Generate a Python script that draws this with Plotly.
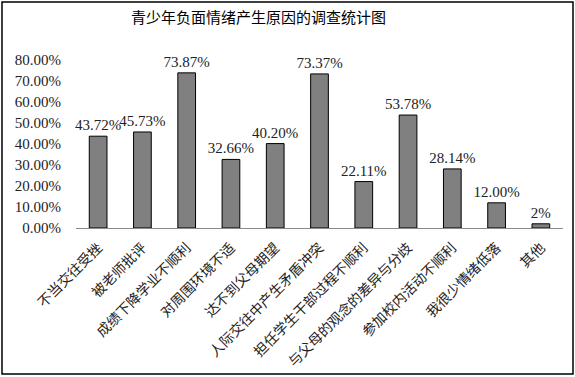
import plotly.graph_objects as go

categories = ["不当交往受挫", "被老师批评", "成绩下降学业不顺利", "对周围环境不适", "达不到父母期望",
              "人际交往中产生矛盾冲突", "担任学生干部过程不顺利", "与父母的观念的差异与分歧",
              "参加校内活动不顺利", "我很少情绪低落", "其他"]
values = [43.72, 45.73, 73.87, 32.66, 40.20, 73.37, 22.11, 53.78, 28.14, 12.00, 2]
value_labels = ["43.72%", "45.73%", "73.87%", "32.66%", "40.20%", "73.37%", "22.11%",
                "53.78%", "28.14%", "12.00%", "2%"]
y_ticks = [0, 10, 20, 30, 40, 50, 60, 70, 80]
y_tick_labels = ["0.00%", "10.00%", "20.00%", "30.00%", "40.00%", "50.00%", "60.00%", "70.00%", "80.00%"]
title = "青少年负面情绪产生原因的调查统计图"

W, H = 575, 377
L, R, T, B = 76, 12, 60, 149
pw, ph = W - L - R, H - T - B

def px_x(x):
    return (x - L) / pw

def px_y(y):
    return (H - B - y) / ph

fig = go.Figure(go.Bar(
    x=categories, y=values,
    marker=dict(color="#808080", line=dict(color="#000000", width=1)),
    text=value_labels, textposition="outside", constraintext="none",
    textfont=dict(family="Liberation Serif", size=15, color="#222222"),
    cliponaxis=False,
))

fig.update_layout(
    width=W, height=H,
    margin=dict(l=L, r=R, t=T, b=B, autoexpand=False),
    paper_bgcolor="white", plot_bgcolor="white",
    bargap=0.6, showlegend=False,
    xaxis=dict(showline=True, linecolor="#8a8a8a", linewidth=1, ticks="",
               tickangle=-45, ticklabelstandoff=5, automargin=False,
               tickfont=dict(family="Noto Sans CJK SC", size=14, color="#222222")),
    yaxis=dict(range=[0, 80], tickvals=y_ticks, ticktext=y_tick_labels, showgrid=False,
               zeroline=False, showline=False, ticklabelstandoff=14, automargin=False,
               tickfont=dict(family="Liberation Serif", size=15, color="#222222")),
    shapes=[dict(type="rect", xref="paper", yref="paper",
                 x0=px_x(2), x1=px_x(573), y0=px_y(374), y1=px_y(2),
                 line=dict(color="#000000", width=1.5))],
    annotations=[dict(text=title, xref="paper", yref="paper", x=px_x(258), y=px_y(16),
                      xanchor="center", yanchor="middle", showarrow=False,
                      font=dict(family="Noto Sans CJK SC", size=15, color="#000000"))],
)

fig.write_html("out.html", config={"displayModeBar": False},
               post_script="document.body.style.margin='0';document.body.style.overflow='hidden';")
